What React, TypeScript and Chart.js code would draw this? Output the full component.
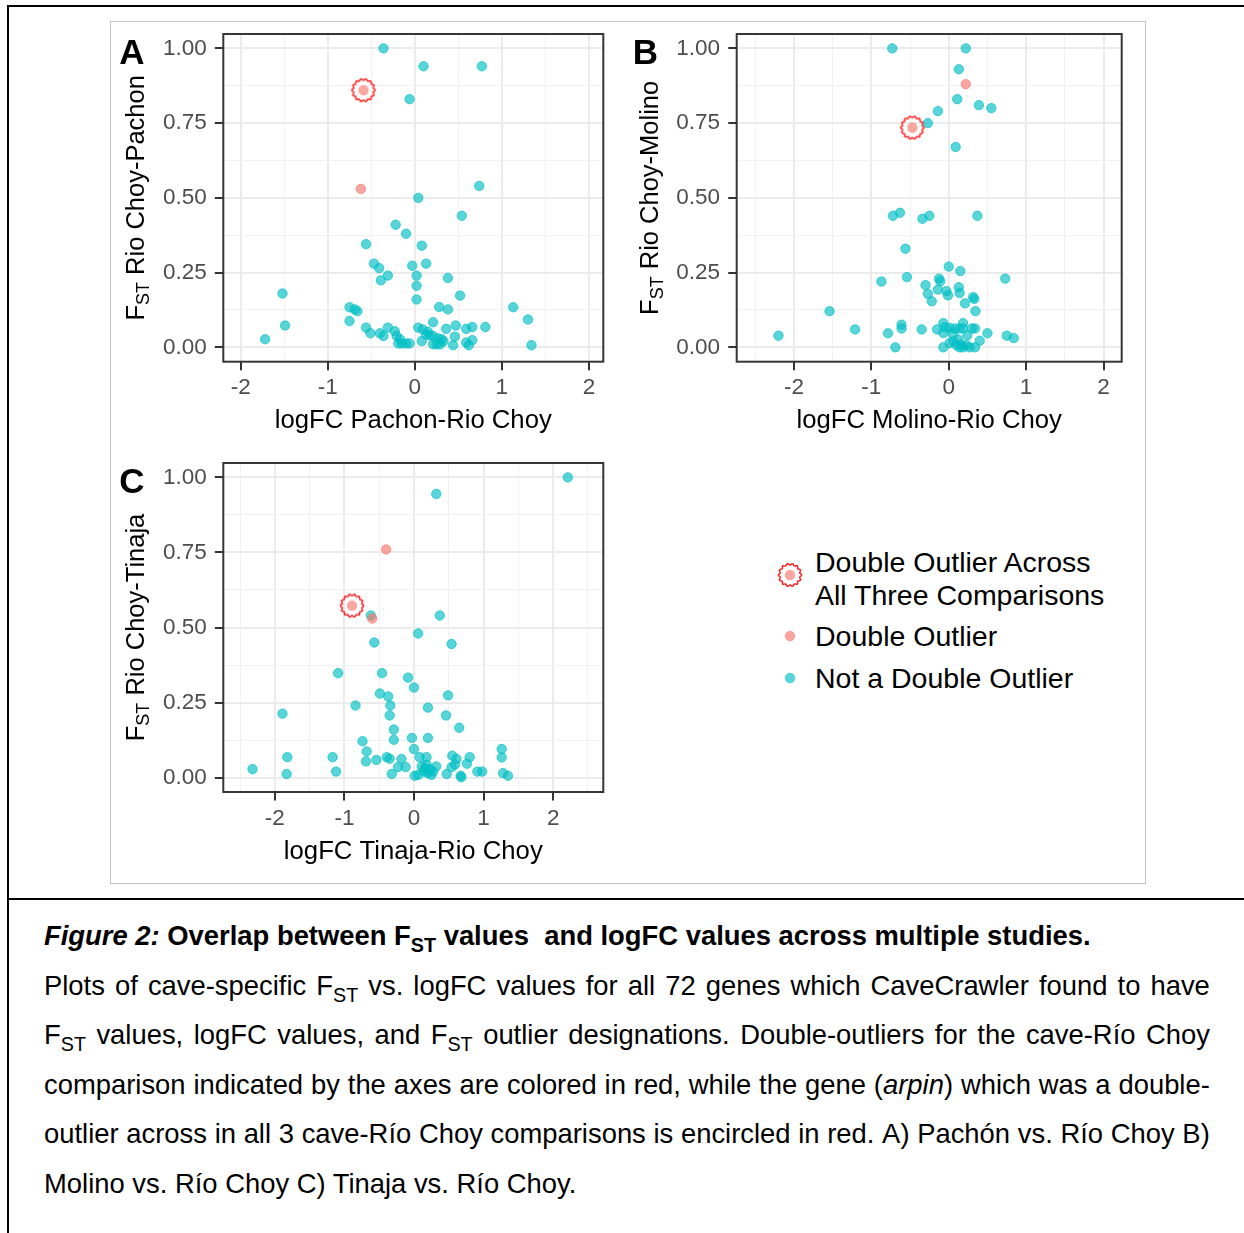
import React, { useEffect, useRef } from "react";
import { Chart, registerables } from "chart.js";

Chart.register(...registerables);

const FONT = '"Liberation Sans", Arial, Helvetica, sans-serif';

// ---------------- Data: [logFC, FST] ----------------
const pachonNotOutlier: number[][] = [
  [-0.36, 1.0], [0.10, 0.94], [0.77, 0.94], [-0.06, 0.83], [0.74, 0.54], [0.04, 0.50], [0.54, 0.44],
  [-0.22, 0.41], [-0.10, 0.38], [-0.56, 0.345], [0.08, 0.34], [0.13, 0.28], [-0.47, 0.28], [-0.41, 0.265],
  [-0.03, 0.273], [-0.31, 0.24], [-0.39, 0.224], [0.02, 0.24], [0.38, 0.232], [0.02, 0.206], [-1.52, 0.18],
  [0.52, 0.173], [0.02, 0.16], [-0.75, 0.134], [-0.69, 0.127], [-0.66, 0.121], [0.28, 0.135], [0.38, 0.127],
  [1.13, 0.134], [1.30, 0.093], [-0.75, 0.088], [-1.49, 0.073], [-1.72, 0.027], [1.34, 0.007], [0.81, 0.068],
  [-0.56, 0.066], [-0.51, 0.047], [-0.40, 0.047], [-0.36, 0.038], [-0.31, 0.066], [-0.23, 0.054], [-0.21, 0.038],
  [-0.17, 0.027], [-0.19, 0.013], [-0.15, 0.013], [-0.10, 0.013], [-0.06, 0.013], [0.04, 0.066], [0.09, 0.06],
  [0.08, 0.021], [0.13, 0.043], [0.21, 0.084], [0.21, 0.038], [0.25, 0.01], [0.29, 0.01], [0.21, 0.01],
  [0.31, 0.027], [0.36, 0.062], [0.47, 0.073], [0.46, 0.036], [0.44, 0.007], [0.59, 0.062], [0.66, 0.068],
  [0.59, 0.016], [0.62, 0.007], [0.66, 0.024], [0.17, 0.04], [0.27, 0.03], [0.33, 0.02], [0.15, 0.052],
];
const pachonDoubleOutlier: number[][] = [[-0.62, 0.53]];
const pachonTripleOutlier: number[][] = [[-0.59, 0.86]];

const molinoNotOutlier: number[][] = [
  [-0.73, 1.0], [0.22, 1.0], [0.13, 0.93], [0.11, 0.83], [0.39, 0.81], [0.55, 0.80], [-0.14, 0.79],
  [-0.27, 0.75], [0.09, 0.67], [-0.72, 0.44], [-0.63, 0.45], [-0.34, 0.43], [-0.25, 0.44], [0.37, 0.44],
  [-0.56, 0.33], [0.0, 0.27], [0.15, 0.255], [-0.87, 0.22], [-0.54, 0.235], [0.73, 0.23], [-0.125, 0.23],
  [-0.11, 0.221], [-0.30, 0.208], [-0.14, 0.193], [-0.27, 0.179], [-0.22, 0.154], [-0.03, 0.188], [-0.01, 0.174],
  [0.13, 0.201], [0.14, 0.182], [0.315, 0.168], [0.33, 0.162], [0.21, 0.147], [0.345, 0.121], [-1.54, 0.121],
  [-2.20, 0.039], [-1.21, 0.06], [-0.785, 0.047], [-0.61, 0.076], [-0.61, 0.063], [-0.69, 0.0], [-0.35, 0.06],
  [-0.15, 0.06], [-0.07, 0.081], [-0.05, 0.067], [-0.07, 0.048], [0.01, 0.065], [0.08, 0.063], [0.14, 0.063],
  [0.185, 0.081], [0.185, 0.063], [0.34, 0.063], [0.50, 0.047], [0.75, 0.039], [0.84, 0.031], [0.40, 0.022],
  [-0.07, 0.0], [0.01, 0.014], [0.06, 0.02], [0.10, 0.007], [0.14, 0.0], [0.185, 0.0], [0.23, 0.007],
  [0.27, 0.0], [0.34, 0.0], [0.12, 0.026], [0.30, 0.063], [0.24, 0.04], [0.05, 0.045], [0.16, 0.01],
];
const molinoDoubleOutlier: number[][] = [[0.22, 0.88]];
const molinoTripleOutlier: number[][] = [[-0.47, 0.735]];

const tinajaNotOutlier: number[][] = [
  [2.21, 1.0], [0.32, 0.945], [-0.62, 0.54], [0.37, 0.54], [0.06, 0.48], [-0.57, 0.45], [0.54, 0.445],
  [-1.09, 0.348], [-0.46, 0.348], [-0.085, 0.333], [0.0, 0.30], [-0.49, 0.28], [-0.37, 0.27], [-0.34, 0.24],
  [-0.35, 0.207], [0.49, 0.274], [-0.84, 0.24], [0.20, 0.233], [0.46, 0.207], [-1.89, 0.213], [0.65, 0.166],
  [-0.29, 0.16], [-0.29, 0.126], [-0.03, 0.132], [0.20, 0.132], [-0.74, 0.121], [-0.68, 0.087], [-0.69, 0.054],
  [-0.54, 0.059], [0.0, 0.095], [1.26, 0.095], [1.26, 0.067], [1.28, 0.015], [1.35, 0.006], [0.91, 0.02],
  [0.98, 0.02], [0.80, 0.068], [0.76, 0.046], [-2.32, 0.028], [-1.82, 0.068], [-1.83, 0.012], [-1.17, 0.068],
  [-1.12, 0.02], [-0.39, 0.068], [-0.35, 0.063], [-0.32, 0.012], [-0.18, 0.062], [-0.23, 0.035], [-0.12, 0.035],
  [0.01, 0.006], [0.08, 0.068], [0.18, 0.068], [0.11, 0.037], [0.155, 0.031], [0.18, 0.043], [0.23, 0.028],
  [0.275, 0.02], [0.32, 0.037], [0.06, 0.009], [0.25, 0.009], [0.47, 0.012], [0.55, 0.073], [0.61, 0.062],
  [0.54, 0.035], [0.59, 0.043], [0.67, 0.006], [0.68, 0.001], [0.14, 0.02], [0.20, 0.015],
];
const tinajaDoubleOutlier: number[][] = [[-0.40, 0.76], [-0.60, 0.53]];
const tinajaTripleOutlier: number[][] = [[-0.89, 0.573]];

// ---------------- Ticks ----------------
const yMajorTicks = [0, 0.25, 0.5, 0.75, 1];
const yTickLabels = ["0.00", "0.25", "0.50", "0.75", "1.00"];
const yMinorTicks = [0.125, 0.375, 0.625, 0.875];
const xMajorTicks = [-2, -1, 0, 1, 2];
const xTickLabels = ["-2", "-1", "0", "1", "2"];
const xMinorTicksA = [-1.5, -0.5, 0.5, 1.5];
const xMinorTicksB = [-2.5, -1.5, -0.5, 0.5, 1.5];
const xMinorTicksC = [-2.5, -1.5, -0.5, 0.5, 1.5, 2.5];

const legendLabels = ["Double Outlier Across", "All Three Comparisons", "Double Outlier", "Not a Double Outlier"];

// ---------------- Styles ----------------
const TEAL = "rgba(0,191,196,0.66)";
const SALMON = "rgba(248,118,109,0.65)";
const RING = "#ff2020";

function ringPts(cx: number, cy: number): number[][] {
  const pts: number[][] = [];
  for (let i = 0; i <= 280; i++) {
    const t = (i / 280) * Math.PI * 2;
    const r = 10.8 + 0.8 * Math.cos(14 * t);
    pts.push([cx + r * Math.cos(t), cy + r * Math.sin(t)]);
  }
  return pts;
}

function makeRingImage(): HTMLCanvasElement {
  const c = document.createElement("canvas");
  c.width = 28;
  c.height = 28;
  const g = c.getContext("2d")!;
  g.fillStyle = SALMON;
  g.beginPath();
  g.arc(14, 14, 5.2, 0, Math.PI * 2);
  g.fill();
  g.strokeStyle = RING;
  g.lineWidth = 1.5;
  g.beginPath();
  ringPts(14, 14).forEach((p, i) => (i ? g.lineTo(p[0], p[1]) : g.moveTo(p[0], p[1])));
  g.closePath();
  g.stroke();
  return c;
}

const toXY = (arr: number[][]) => arr.map((p) => ({ x: p[0], y: p[1] }));
const isMajorX = (v: number) => Math.abs(v - Math.round(v)) < 1e-9;
const isMajorY = (v: number) => Math.abs(v * 4 - Math.round(v * 4)) < 1e-9;

interface PanelCfg {
  letter: string;
  yTitleRest: string;
  xTitle: string;
  notOut: number[][];
  dbl: number[][];
  triple: number[][];
  xMin: number;
  xMax: number;
  xMinor: number[];
  left: number;
  top: number;
  w: number;
  h: number;
  chartLeft: number;
  padRight: number;
  xAxisH: number;
  xTickPad: number;
  xTitlePad: number;
}

const panels: PanelCfg[] = [
  {
    letter: "A", yTitleRest: "Rio Choy-Pachon", xTitle: "logFC Pachon-Rio Choy",
    notOut: pachonNotOutlier, dbl: pachonDoubleOutlier, triple: pachonTripleOutlier,
    xMin: -2.2, xMax: 2.165, xMinor: xMinorTicksA,
    left: 110, top: 9, w: 520, h: 440, chartLeft: 113.3, padRight: 26.7, xAxisH: 87.3, xTickPad: 4.3, xTitlePad: 12.2,
  },
  {
    letter: "B", yTitleRest: "Rio Choy-Molino", xTitle: "logFC Molino-Rio Choy",
    notOut: molinoNotOutlier, dbl: molinoDoubleOutlier, triple: molinoTripleOutlier,
    xMin: -2.74, xMax: 2.235, xMinor: xMinorTicksB,
    left: 625, top: 9, w: 515, h: 440, chartLeft: 111.7, padRight: 18.3, xAxisH: 87.3, xTickPad: 4.3, xTitlePad: 12.2,
  },
  {
    letter: "C", yTitleRest: "Rio Choy-Tinaja", xTitle: "logFC Tinaja-Rio Choy",
    notOut: tinajaNotOutlier, dbl: tinajaDoubleOutlier, triple: tinajaTripleOutlier,
    xMin: -2.74, xMax: 2.72, xMinor: xMinorTicksC,
    left: 110, top: 438, w: 520, h: 440, chartLeft: 113.3, padRight: 26.7, xAxisH: 86, xTickPad: 4.8, xTitlePad: 10.8,
  },
];

function Panel({ cfg }: { cfg: PanelCfg }) {
  const ref = useRef<HTMLCanvasElement>(null);
  useEffect(() => {
    const ring = makeRingImage();
    const xTicks = [...xMajorTicks, ...cfg.xMinor].sort((a, b) => a - b);
    const yTicks = [...yMajorTicks, ...yMinorTicks].sort((a, b) => a - b);
    const decor = {
      id: "panelDecor",
      afterDraw(chart: any) {
        const { ctx, chartArea: a } = chart;
        ctx.save();
        ctx.strokeStyle = "#363636";
        ctx.lineWidth = 2;
        ctx.strokeRect(a.left, a.top, a.right - a.left, a.bottom - a.top);
        ctx.fillStyle = "#000";
        ctx.textAlign = "left";
        ctx.textBaseline = "alphabetic";
        ctx.font = `bold 35px ${FONT}`;
        ctx.fillText(cfg.letter, a.left - 104, a.top + 30);
        const cy = (a.top + a.bottom) / 2;
        ctx.translate(a.left - 79, cy);
        ctx.rotate(-Math.PI / 2);
        const big = `25.5px ${FONT}`;
        const small = `18px ${FONT}`;
        ctx.font = big;
        const wF = ctx.measureText("F").width;
        const wR = ctx.measureText(" " + cfg.yTitleRest).width;
        ctx.font = small;
        const wS = ctx.measureText("ST").width;
        let x = -(wF + wS + wR) / 2;
        ctx.font = big;
        ctx.fillText("F", x, 0);
        x += wF;
        ctx.font = small;
        ctx.fillText("ST", x, 5);
        x += wS;
        ctx.font = big;
        ctx.fillText(" " + cfg.yTitleRest, x, 0);
        ctx.restore();
      },
    };
    const gridColor = (major: boolean) => (major ? "#ebebeb" : "#f2f2f2");
    const chart = new Chart(ref.current!, {
      type: "scatter",
      data: {
        datasets: [
          {
            label: legendLabels[0] + " " + legendLabels[1],
            data: toXY(cfg.triple),
            pointStyle: ring as any,
            pointRadius: 12,
            backgroundColor: SALMON,
            borderColor: RING,
          },
          {
            label: legendLabels[2],
            data: toXY(cfg.dbl),
            pointRadius: 4.7,
            borderWidth: 1,
            backgroundColor: SALMON,
            borderColor: SALMON,
          },
          {
            label: legendLabels[3],
            data: toXY(cfg.notOut),
            pointRadius: 4.7,
            borderWidth: 1,
            backgroundColor: TEAL,
            borderColor: TEAL,
          },
        ],
      },
      options: {
        responsive: false,
        animation: false,
        devicePixelRatio: 1,
        events: [],
        layout: { padding: { left: 0, top: 25, right: cfg.padRight, bottom: 0 } },
        plugins: { legend: { display: false }, tooltip: { enabled: false } },
        scales: {
          x: {
            type: "linear",
            min: cfg.xMin,
            max: cfg.xMax,
            afterBuildTicks: (s: any) => {
              s.ticks = xTicks.map((v) => ({ value: v }));
            },
            afterFit: (s: any) => {
              s.height = cfg.xAxisH;
            },
            border: { display: false },
            grid: {
              color: (c: any) => gridColor(c.tick ? isMajorX(c.tick.value) : true),
              lineWidth: (c: any) => (c.tick && isMajorX(c.tick.value) ? 2 : 1),
              tickColor: (c: any) => (c.tick && isMajorX(c.tick.value) ? "#333" : "rgba(0,0,0,0)"),
              tickWidth: 2,
              tickLength: 8.5,
              drawTicks: true,
            },
            ticks: {
              autoSkip: false,
              maxRotation: 0,
              padding: cfg.xTickPad,
              color: "#4d4d4d",
              font: { family: FONT, size: 22.5 },
              callback: (v: any) => {
                const i = xMajorTicks.findIndex((m) => Math.abs(m - v) < 1e-9);
                return i >= 0 ? xTickLabels[i] : "";
              },
            },
            title: {
              display: true,
              text: cfg.xTitle,
              color: "#000",
              font: { family: FONT, size: 25.7 },
              padding: { top: 0, bottom: cfg.xTitlePad },
            },
          },
          y: {
            type: "linear",
            min: -0.048,
            max: 1.048,
            afterBuildTicks: (s: any) => {
              s.ticks = yTicks.map((v) => ({ value: v }));
            },
            afterFit: (s: any) => {
              s.width = cfg.chartLeft;
            },
            border: { display: false },
            grid: {
              color: (c: any) => gridColor(c.tick ? isMajorY(c.tick.value) : true),
              lineWidth: (c: any) => (c.tick && isMajorY(c.tick.value) ? 2 : 1),
              tickColor: (c: any) => (c.tick && isMajorY(c.tick.value) ? "#333" : "rgba(0,0,0,0)"),
              tickWidth: 2,
              tickLength: 8.5,
              drawTicks: true,
            },
            ticks: {
              autoSkip: false,
              padding: 8.1,
              color: "#4d4d4d",
              font: { family: FONT, size: 22.5 },
              callback: (v: any) => {
                const i = yMajorTicks.findIndex((m) => Math.abs(m - v) < 1e-9);
                return i >= 0 ? yTickLabels[i] : "";
              },
            },
          },
        },
      },
      plugins: [decor],
    } as any);
    return () => chart.destroy();
  }, []);
  return (
    <canvas
      ref={ref}
      width={cfg.w}
      height={cfg.h}
      style={{ position: "absolute", left: cfg.left, top: cfg.top, width: cfg.w, height: cfg.h }}
    />
  );
}

const Sub = () => (
  <span style={{ fontSize: "0.72em", position: "relative", top: "0.32em" }}>ST</span>
);
const FST = (
  <span>
    F<Sub />
  </span>
);

function JLine({ words, top }: { words: React.ReactNode[]; top: number }) {
  return (
    <div
      style={{
        position: "absolute",
        left: 44,
        top,
        width: 1166,
        height: 49.6,
        lineHeight: "49.6px",
        display: "flex",
        justifyContent: "space-between",
        whiteSpace: "nowrap",
      }}
    >
      {words.map((w, i) => (
        <span key={i}>{w}</span>
      ))}
    </div>
  );
}

export default function App() {
  useEffect(() => {
    document.body.style.margin = "0";
  }, []);
  const ring = ringPts(20, 25)
    .map((p, i) => `${i ? "L" : "M"}${p[0].toFixed(2)},${p[1].toFixed(2)}`)
    .join(" ") + " Z";
  const line2: React.ReactNode[] = ["Plots", "of", "cave-specific", FST, "vs.", "logFC", "values", "for", "all", "72", "genes", "which", "CaveCrawler", "found", "to", "have"];
  const line3: React.ReactNode[] = [FST, "values,", "logFC", "values,", "and", FST, "outlier", "designations.", "Double-outliers", "for", "the", "cave-Río", "Choy"];
  const line4: React.ReactNode[] = ["comparison", "indicated", "by", "the", "axes", "are", "colored", "in", "red,", "while", "the", "gene", <span>(<i>arpin</i>)</span>, "which", "was", "a", "double-"];
  const line5: React.ReactNode[] = ["outlier", "across", "in", "all", "3", "cave-Río", "Choy", "comparisons", "is", "encircled", "in", "red.", "A)", "Pachón", "vs.", "Río", "Choy", "B)"];
  const legendText = (t: string, top: number) => (
    <div style={{ position: "absolute", left: 815, top, fontSize: 28.5, lineHeight: "33px", whiteSpace: "nowrap", color: "#000" }}>{t}</div>
  );
  return (
    <div
      style={{
        position: "absolute",
        left: 0,
        top: 0,
        width: 1244,
        height: 1233,
        overflow: "hidden",
        background: "#fff",
        fontFamily: FONT,
        color: "#000",
      }}
    >
      {/* outer frame */}
      <div style={{ position: "absolute", left: 7, top: 5, width: 1300, height: 1300, borderTop: "2px solid #000", borderLeft: "2px solid #000" }} />
      <div style={{ position: "absolute", left: 7, top: 898, width: 1300, height: 0, borderTop: "2px solid #000" }} />
      {/* figure box */}
      <div style={{ position: "absolute", left: 110, top: 21, width: 1034, height: 861, border: "1px solid #c4c4c4", background: "#fff" }} />
      {panels.map((p) => (
        <Panel key={p.letter} cfg={p} />
      ))}
      {/* legend */}
      <svg style={{ position: "absolute", left: 770, top: 550 }} width={40} height={145}>
        <circle cx={20} cy={25} r={5.2} fill={SALMON} />
        <path d={ring} fill="none" stroke={RING} strokeWidth={1.5} />
        <circle cx={20} cy={86} r={5.2} fill={SALMON} />
        <circle cx={20} cy={128} r={5.2} fill={TEAL} />
      </svg>
      {legendText(legendLabels[0], 545.5)}
      {legendText(legendLabels[1], 578.5)}
      {legendText(legendLabels[2], 619.5)}
      {legendText(legendLabels[3], 661.5)}
      {/* caption */}
      <div style={{ fontSize: 27.4 }}>
        <div style={{ position: "absolute", left: 44, top: 911.2, lineHeight: "49.6px", fontWeight: "bold", whiteSpace: "nowrap" }}>
          <i>Figure 2:</i> Overlap between {FST} values{"\u00a0"} and logFC values across multiple studies.
        </div>
        <JLine words={line2} top={961.2} />
        <JLine words={line3} top={1010.2} />
        <JLine words={line4} top={1060.2} />
        <JLine words={line5} top={1109.2} />
        <div style={{ position: "absolute", left: 44, top: 1159.2, lineHeight: "49.6px", whiteSpace: "nowrap" }}>
          Molino vs. Río Choy C) Tinaja vs. Río Choy.
        </div>
      </div>
    </div>
  );
}
